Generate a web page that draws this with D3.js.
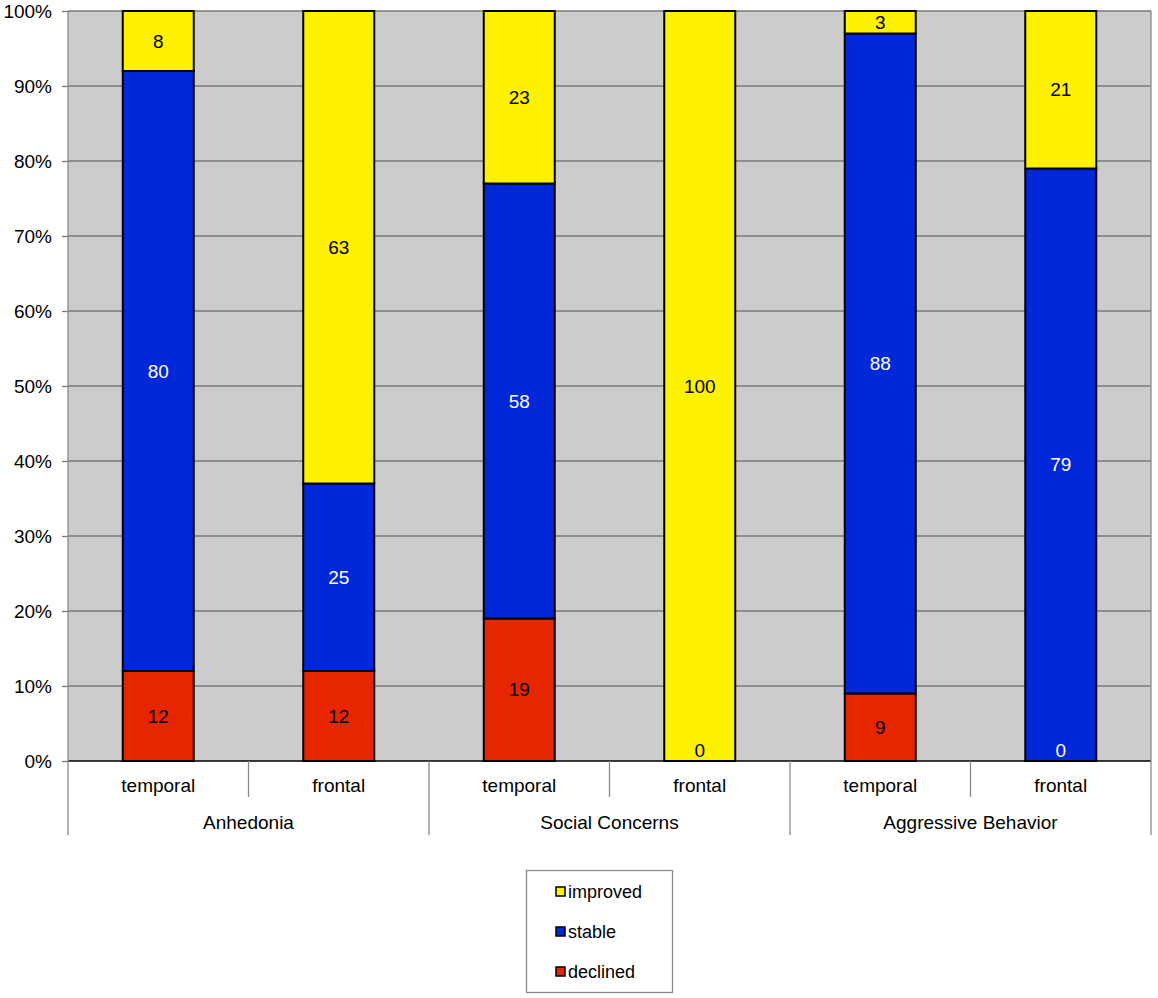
<!DOCTYPE html>
<html><head><meta charset="utf-8">
<script src="https://cdn.jsdelivr.net/npm/d3@7"></script>
<style>body{margin:0;background:#fff;} svg{display:block;font-family:"Liberation Sans",Arial,sans-serif;}</style>
</head><body>
<svg id="c" width="1158" height="998"></svg>
<script>
const groups = ["Anhedonia", "Social Concerns", "Aggressive Behavior"];
const sites = ["temporal", "frontal"];
const declined = [12, 12, 19, 0, 9, 0];
const stable = [80, 25, 58, 0, 88, 79];
const improved = [8, 63, 23, 100, 3, 21];
const yTicks = [0, 10, 20, 30, 40, 50, 60, 70, 80, 90, 100];
const seriesNames = ["declined", "stable", "improved"];
const colors = {declined: "#E62600", stable: "#0028D8", improved: "#FFF200"};
const labelColors = {declined: "#000", stable: "#fff", improved: "#000"};

const svg = d3.select("#c");
const L = 68, R = 1151, T = 11, B = 761;

const keys = [];
groups.forEach(g => sites.forEach(s => keys.push(g + "|" + s)));
const rows = keys.map((k, i) => ({key: k, group: k.split("|")[0], site: k.split("|")[1],
  declined: declined[i], stable: stable[i], improved: improved[i]}));

const pad = 1 - 71 / ((R - L) / keys.length);
const x = d3.scaleBand().domain(keys).range([L, R]).paddingInner(pad).paddingOuter(pad / 2);
const y = d3.scaleLinear().domain([0, 100]).range([B, T]);

// plot background
svg.append("rect").attr("x", L).attr("y", T).attr("width", R - L).attr("height", B - T).attr("fill", "#CCCCCC");

// gridlines
svg.append("g").selectAll("line").data(yTicks.filter(d => d > 0)).join("line")
  .attr("x1", L).attr("x2", R).attr("y1", d => y(d)).attr("y2", d => y(d))
  .attr("stroke", "#7a7a7a").attr("stroke-width", 1.3);

// y axis
const yAxis = d3.axisLeft(y).tickValues(yTicks).tickFormat(d => d + "%").tickSize(6).tickPadding(10);
const ya = svg.append("g").attr("transform", `translate(${L},0)`).call(yAxis);
ya.select(".domain").remove();
ya.selectAll(".tick line").attr("stroke", "#7a7a7a").attr("stroke-width", 1.3);
ya.selectAll("text").attr("font-size", 19).attr("fill", "#000").attr("font-family", "Liberation Sans, Arial, sans-serif");

// stacked bars
const stack = d3.stack().keys(seriesNames)(rows);
const gBars = svg.append("g");
stack.forEach(layer => {
  gBars.selectAll(null).data(layer.filter(d => d[1] - d[0] > 0)).join("rect")
    .attr("x", d => x(d.data.key)).attr("width", x.bandwidth())
    .attr("y", d => y(d[1])).attr("height", d => y(d[0]) - y(d[1]))
    .attr("fill", colors[layer.key]).attr("stroke", "#000").attr("stroke-width", 2);
});

// labels
stack.forEach(layer => {
  layer.forEach(d => {
    const v = d[1] - d[0];
    const name = layer.key;
    if (v === 0 && name !== "declined") return;
    let color = labelColors[name];
    let ty, base = "central";
    if (v === 0) {
      if (d.data.stable > 0) color = labelColors.stable;
      ty = y(d[0]) - 4; base = "alphabetic";
    } else {
      ty = (y(d[0]) + y(d[1])) / 2;
    }
    svg.append("text").attr("x", x(d.data.key) + x.bandwidth() / 2).attr("y", ty)
      .attr("text-anchor", "middle").attr("dominant-baseline", base)
      .attr("font-size", 19).attr("fill", color).text(v);
  });
});

// x axis baseline
svg.append("line").attr("x1", L).attr("x2", R).attr("y1", B).attr("y2", B).attr("stroke", "#000").attr("stroke-width", 1.3);

// category separators
const step = x.step();
const ax = svg.append("g").attr("stroke", "#8a8a8a").attr("stroke-width", 1.3);
keys.forEach((k, i) => {
  const xl = L + i * step;
  const isGroupEdge = i % sites.length === 0;
  ax.append("line").attr("x1", xl).attr("x2", xl).attr("y1", B).attr("y2", isGroupEdge ? 835 : 797);
});
ax.append("line").attr("x1", R).attr("x2", R).attr("y1", T).attr("y2", 835);
ax.append("line").attr("x1", L).attr("x2", L).attr("y1", T).attr("y2", B);

// sub labels
svg.append("g").selectAll("text").data(rows).join("text")
  .attr("x", d => x(d.key) + x.bandwidth() / 2).attr("y", 785)
  .attr("text-anchor", "middle").attr("dominant-baseline", "central")
  .attr("font-size", 19).text(d => d.site);

// group labels
svg.append("g").selectAll("text").data(groups).join("text")
  .attr("x", (d, i) => L + step * sites.length * (i + 0.5)).attr("y", 822)
  .attr("text-anchor", "middle").attr("dominant-baseline", "central")
  .attr("font-size", 19).text(d => d);

// legend
const lg = svg.append("g");
lg.append("rect").attr("x", 526.5).attr("y", 870.5).attr("width", 146).attr("height", 122)
  .attr("fill", "#fff").attr("stroke", "#8a8a8a").attr("stroke-width", 1.3);
const legendItems = ["improved", "stable", "declined"];
legendItems.forEach((n, i) => {
  const cy = 892 + i * 40;
  lg.append("rect").attr("x", 556).attr("y", cy - 5).attr("width", 9).attr("height", 9)
    .attr("fill", colors[n]).attr("stroke", "#000").attr("stroke-width", 1.5);
  lg.append("text").attr("x", 568).attr("y", cy).attr("dominant-baseline", "central")
    .attr("font-size", 18).text(n);
});
</script>
</body></html>
